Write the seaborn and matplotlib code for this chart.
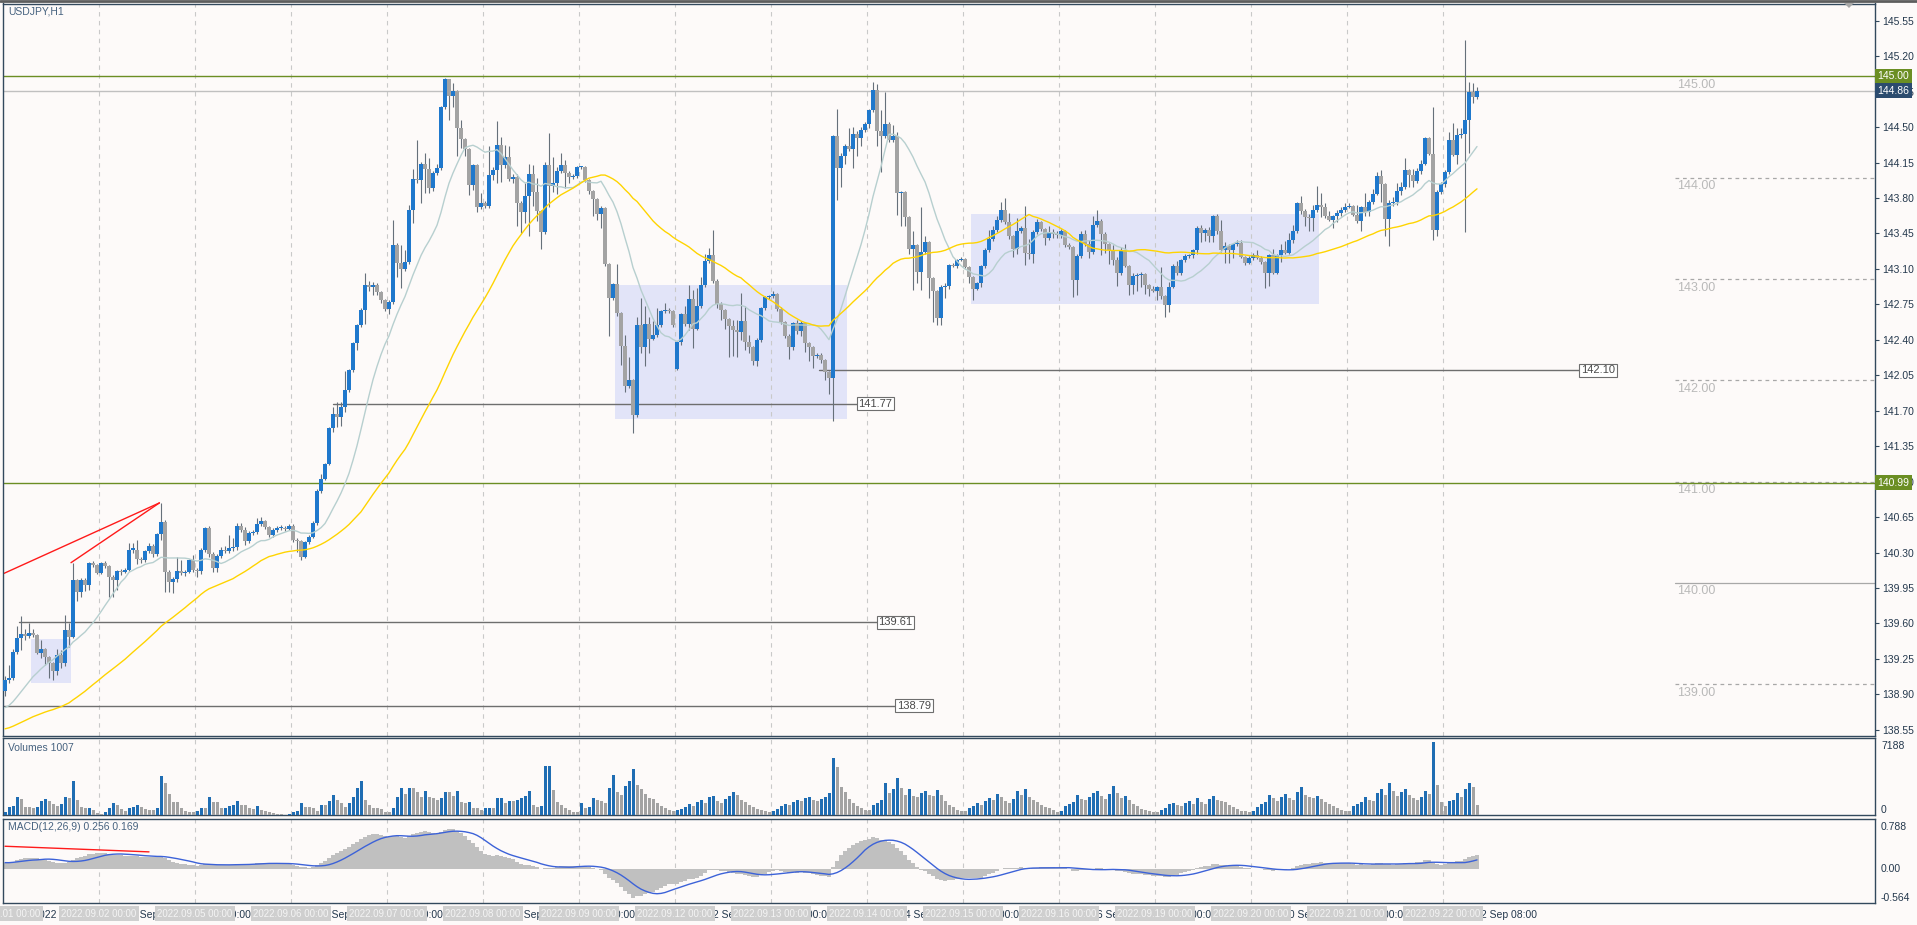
import numpy as np
import pandas as pd
import matplotlib
matplotlib.use("Agg")
import matplotlib.pyplot as plt
from matplotlib.lines import Line2D
from matplotlib.patches import Rectangle, Polygon
import seaborn as sns

# ==================== data ====================
symbol = "USDJPY,H1"
trading_days = [1, 2, 5, 6, 7, 8, 9, 12, 13, 14, 15, 16, 19, 20, 21, 22]
first_open = 138.93
gap_opens = {168: 142.11}          # Monday open gap

closes = [
    # 1 Sep
    139.04, 139.06, 139.32, 139.46, 139.50, 139.48, 139.51, 139.49, 139.31, 139.35, 139.27, 139.21,
    139.13, 139.29, 139.21, 139.54, 139.47, 140.03, 139.91, 140.03, 139.98, 140.20, 140.18, 140.10,
    # 2 Sep
    140.20, 140.17, 140.06, 140.03, 140.12, 140.11, 140.13, 140.33, 140.33, 140.24, 140.23, 140.32,
    140.36, 140.29, 140.48, 140.60, 140.11, 140.01, 140.04, 140.12, 140.10, 140.11, 140.23, 140.13,
    # 5 Sep
    140.12, 140.33, 140.54, 140.29, 140.15, 140.27, 140.33, 140.32, 140.34, 140.35, 140.56, 140.52,
    140.41, 140.49, 140.50, 140.58, 140.61, 140.55, 140.47, 140.52, 140.54, 140.54, 140.53, 140.56,
    # 6 Sep
    140.42, 140.41, 140.26, 140.40, 140.45, 140.59, 140.91, 141.03, 141.17, 141.53, 141.67, 141.64,
    141.74, 141.90, 142.10, 142.37, 142.55, 142.69, 142.94, 142.92, 142.94, 142.87, 142.79, 142.70,
    # 7 Sep
    142.77, 143.34, 143.16, 143.10, 143.17, 143.68, 143.99, 143.98, 144.14, 144.09, 143.90, 144.05,
    144.10, 144.70, 144.97, 144.81, 144.86, 144.49, 144.38, 144.28, 143.93, 144.13, 143.71, 143.75,
    # 8 Sep
    143.72, 144.03, 144.08, 144.32, 144.13, 144.20, 143.99, 144.01, 143.75, 143.66, 143.82, 144.04,
    143.86, 143.67, 143.46, 144.13, 143.92, 143.95, 144.07, 144.13, 144.05, 144.01, 144.02, 144.11,
    # 9 Sep
    144.11, 143.98, 143.87, 143.79, 143.64, 143.70, 143.15, 142.81, 142.95, 142.66, 142.34, 141.94,
    142.00, 141.66, 142.55, 142.33, 142.56, 142.41, 142.45, 142.55, 142.68, 142.69, 142.68, 142.55,
    # 12 Sep
    142.38, 142.65, 142.56, 142.80, 142.51, 142.73, 142.94, 143.18, 143.24, 142.98, 142.75, 142.69,
    142.61, 142.54, 142.50, 142.48, 142.59, 142.38, 142.33, 142.19, 142.40, 142.71, 142.82, 142.83,
    # 13 Sep
    142.85, 142.70, 142.58, 142.44, 142.33, 142.57, 142.49, 142.57, 142.37, 142.33, 142.24, 142.25,
    142.20, 142.08, 142.02, 144.41, 144.10, 144.21, 144.31, 144.28, 144.43, 144.39, 144.47, 144.53,
    # 14 Sep
    144.67, 144.87, 144.46, 144.41, 144.53, 144.37, 144.41, 143.85, 143.86, 143.61, 143.30, 143.34,
    143.07, 143.27, 143.37, 143.01, 142.88, 142.62, 142.92, 142.93, 143.14, 143.13, 143.19, 143.20,
    # 15 Sep
    143.12, 143.02, 142.90, 142.96, 143.13, 143.29, 143.40, 143.48, 143.58, 143.68, 143.56, 143.42,
    143.30, 143.47, 143.50, 143.26, 143.25, 143.46, 143.56, 143.49, 143.41, 143.46, 143.44, 143.43,
    # 16 Sep
    143.47, 143.34, 143.32, 142.99, 143.23, 143.44, 143.35, 143.27, 143.53, 143.57, 143.44, 143.35,
    143.29, 143.19, 143.06, 143.29, 143.13, 142.94, 143.03, 143.04, 143.05, 142.94, 142.90, 142.88,
    # 19 Sep
    142.92, 142.83, 142.74, 142.92, 143.13, 143.06, 143.19, 143.23, 143.24, 143.29, 143.50, 143.45,
    143.48, 143.42, 143.62, 143.47, 143.29, 143.33, 143.29, 143.35, 143.36, 143.22, 143.16, 143.21,
    # 20 Sep
    143.24, 143.21, 143.17, 143.06, 143.24, 143.06, 143.24, 143.29, 143.26, 143.39, 143.47, 143.75,
    143.67, 143.61, 143.60, 143.68, 143.73, 143.71, 143.62, 143.58, 143.62, 143.65, 143.68, 143.71,
    # 21 Sep
    143.72, 143.63, 143.57, 143.71, 143.66, 143.76, 143.84, 144.02, 143.94, 143.59, 143.75, 143.76,
    143.87, 143.91, 144.08, 144.03, 143.97, 144.07, 144.14, 144.39, 144.23, 143.48, 143.86, 143.94,
    # 22 Sep
    144.06, 144.37, 144.22, 144.42, 144.43, 144.57, 144.85, 144.80, 144.86,
]

highs = [
    139.08, 139.19, 139.35, 139.57, 139.67, 139.55, 139.60, 139.55, 139.50, 139.44, 139.36, 139.28,
    139.22, 139.35, 139.34, 139.68, 139.60, 140.20, 140.04, 140.05, 140.05, 140.21, 140.22, 140.19,
    140.21, 140.22, 140.18, 140.08, 140.13, 140.14, 140.15, 140.39, 140.39, 140.42, 140.26, 140.33,
    140.39, 140.38, 140.49, 140.79, 140.62, 140.13, 140.06, 140.26, 140.23, 140.13, 140.24, 140.28,
    140.15, 140.34, 140.55, 140.56, 140.31, 140.29, 140.35, 140.36, 140.47, 140.44, 140.59, 140.59,
    140.55, 140.51, 140.52, 140.64, 140.65, 140.62, 140.56, 140.54, 140.56, 140.57, 140.56, 140.58,
    140.58, 140.44, 140.42, 140.41, 140.47, 140.61, 140.93, 141.08, 141.18, 141.54, 141.74, 141.79,
    141.79, 142.09, 142.11, 142.38, 142.56, 142.71, 143.06, 142.98, 142.97, 142.96, 142.88, 142.80,
    142.79, 143.58, 143.36, 143.34, 143.29, 143.73, 144.09, 144.37, 144.16, 144.24, 144.19, 144.07,
    144.14, 144.71, 144.98, 144.97, 144.94, 144.87, 144.57, 144.39, 144.29, 144.14, 144.14, 143.85,
    143.77, 144.31, 144.11, 144.56, 144.40, 144.32, 144.31, 144.04, 144.04, 143.77, 143.95, 144.14,
    144.13, 144.00, 143.68, 144.16, 144.44, 144.20, 144.11, 144.24, 144.18, 144.07, 144.04, 144.12,
    144.12, 144.12, 143.99, 143.88, 143.80, 143.72, 143.71, 143.16, 142.96, 143.15, 142.67, 142.45,
    142.23, 142.01, 142.63, 142.81, 142.73, 142.63, 142.59, 142.71, 142.69, 142.76, 142.71, 142.69,
    142.39, 142.66, 142.73, 142.94, 142.89, 142.91, 143.02, 143.25, 143.31, 143.48, 143.00, 142.77,
    142.70, 142.62, 142.60, 142.60, 142.86, 142.73, 142.45, 142.34, 142.42, 142.72, 142.83, 142.84,
    142.88, 142.86, 142.72, 142.59, 142.46, 142.58, 142.60, 142.59, 142.58, 142.38, 142.34, 142.27,
    142.27, 142.21, 142.09, 144.42, 144.68, 144.24, 144.33, 144.49, 144.50, 144.46, 144.50, 144.55,
    144.68, 144.95, 144.93, 144.67, 144.85, 144.55, 144.52, 144.45, 143.87, 143.87, 143.62, 143.47,
    143.35, 143.71, 143.42, 143.38, 143.02, 142.89, 142.94, 142.96, 143.15, 143.16, 143.20, 143.22,
    143.21, 143.13, 143.03, 142.97, 143.14, 143.31, 143.48, 143.52, 143.62, 143.76, 143.80, 143.65,
    143.43, 143.60, 143.52, 143.72, 143.40, 143.48, 143.59, 143.57, 143.50, 143.52, 143.49, 143.47,
    143.49, 143.48, 143.36, 143.33, 143.25, 143.47, 143.48, 143.39, 143.62, 143.68, 143.59, 143.46,
    143.36, 143.34, 143.22, 143.32, 143.35, 143.14, 143.06, 143.06, 143.07, 143.06, 142.95, 142.93,
    142.93, 143.12, 142.84, 142.97, 143.15, 143.18, 143.20, 143.25, 143.25, 143.30, 143.52, 143.53,
    143.50, 143.51, 143.63, 143.64, 143.58, 143.37, 143.35, 143.36, 143.39, 143.39, 143.23, 143.23,
    143.26, 143.29, 143.23, 143.18, 143.25, 143.30, 143.25, 143.35, 143.38, 143.45, 143.53, 143.76,
    143.82, 143.69, 143.64, 143.73, 143.92, 143.85, 143.75, 143.67, 143.63, 143.68, 143.71, 143.75,
    143.75, 143.73, 143.73, 143.72, 143.85, 143.78, 143.89, 144.06, 144.08, 143.95, 143.78, 143.81,
    143.95, 143.96, 144.19, 144.09, 144.09, 144.10, 144.18, 144.40, 144.40, 144.70, 143.88, 143.96,
    144.08, 144.45, 144.54, 144.49, 144.49, 145.36, 144.95, 144.94, 144.90,
]

lows = [
    138.88, 139.01, 139.04, 139.30, 139.34, 139.44, 139.46, 139.47, 139.30, 139.26, 139.19, 139.06,
    139.04, 139.09, 139.16, 139.18, 139.37, 139.46, 139.82, 139.86, 139.92, 139.93, 140.16, 140.09,
    140.09, 140.15, 139.86, 139.86, 139.93, 140.08, 140.10, 140.12, 140.30, 140.19, 140.20, 140.21,
    140.30, 140.26, 140.27, 140.42, 139.91, 139.91, 139.90, 140.01, 140.08, 140.07, 140.10, 140.11,
    140.06, 140.09, 140.31, 140.26, 140.11, 140.11, 140.25, 140.30, 140.30, 140.32, 140.33, 140.50,
    140.37, 140.39, 140.47, 140.48, 140.56, 140.53, 140.45, 140.45, 140.50, 140.52, 140.51, 140.52,
    140.40, 140.31, 140.23, 140.25, 140.38, 140.44, 140.57, 140.89, 141.02, 141.16, 141.49, 141.54,
    141.55, 141.69, 141.88, 142.08, 142.30, 142.53, 142.56, 142.88, 142.84, 142.84, 142.76, 142.68,
    142.65, 142.75, 143.02, 142.91, 143.08, 143.15, 143.55, 143.95, 143.75, 143.85, 143.85, 143.87,
    144.03, 144.08, 144.68, 144.57, 144.70, 144.21, 144.29, 144.21, 143.83, 143.88, 143.66, 143.69,
    143.70, 143.70, 143.98, 143.95, 143.96, 144.10, 143.97, 143.95, 143.52, 143.45, 143.55, 143.42,
    143.72, 143.57, 143.30, 143.44, 143.71, 143.86, 143.84, 144.05, 143.90, 143.95, 143.99, 144.00,
    144.09, 143.96, 143.84, 143.62, 143.58, 143.50, 143.13, 142.44, 142.79, 142.64, 142.15, 141.88,
    141.92, 141.48, 141.64, 142.27, 142.14, 142.27, 142.40, 142.43, 142.53, 142.66, 142.66, 142.53,
    142.10, 142.35, 142.54, 142.50, 142.32, 142.50, 142.71, 142.92, 143.16, 142.96, 142.71, 142.60,
    142.51, 142.23, 142.24, 142.23, 142.40, 142.30, 142.27, 142.15, 142.14, 142.38, 142.69, 142.80,
    142.81, 142.68, 142.56, 142.42, 142.21, 142.30, 142.46, 142.44, 142.28, 142.19, 142.12, 142.22,
    142.17, 142.00, 141.87, 141.60, 143.78, 143.91, 144.14, 144.26, 144.10, 144.21, 144.31, 144.45,
    144.49, 144.65, 144.31, 144.06, 144.39, 144.35, 144.35, 143.63, 143.52, 143.52, 143.25, 142.89,
    142.96, 142.89, 143.25, 142.81, 142.58, 142.55, 142.55, 142.81, 142.90, 143.12, 143.11, 143.18,
    143.11, 142.96, 142.79, 142.89, 142.92, 143.11, 143.27, 143.38, 143.46, 143.56, 143.54, 143.40,
    143.22, 143.25, 143.45, 143.14, 143.20, 143.16, 143.44, 143.47, 143.34, 143.39, 143.41, 143.41,
    143.41, 143.32, 143.30, 142.82, 142.84, 143.21, 143.33, 143.21, 143.25, 143.51, 143.24, 143.26,
    143.15, 143.14, 142.93, 143.04, 143.12, 142.84, 142.85, 142.88, 142.92, 142.85, 142.83, 142.87,
    142.79, 142.80, 142.63, 142.67, 142.91, 143.04, 143.04, 143.17, 143.21, 143.21, 143.25, 143.37,
    143.38, 143.37, 143.37, 143.44, 143.27, 143.16, 143.16, 143.21, 143.33, 143.21, 143.14, 143.15,
    143.19, 143.20, 143.15, 142.91, 142.93, 143.05, 143.05, 143.17, 143.25, 143.25, 143.36, 143.45,
    143.64, 143.52, 143.47, 143.47, 143.66, 143.61, 143.60, 143.57, 143.50, 143.56, 143.62, 143.66,
    143.70, 143.62, 143.55, 143.47, 143.62, 143.62, 143.74, 143.83, 143.76, 143.42, 143.33, 143.72,
    143.73, 143.83, 143.89, 143.91, 143.91, 143.95, 144.04, 144.13, 144.22, 143.39, 143.42, 143.84,
    143.91, 144.04, 144.21, 144.14, 144.39, 143.46, 144.24, 144.74, 144.78,
]

volumes = [
    330, 825, 924, 1815, 1584, 825, 825, 726, 825, 1386, 1584, 1386, 1056, 924, 1056, 1815, 1716, 3366,
    1485, 825, 660, 726, 495, 165, 99, 264, 660, 1155, 990, 594, 396, 660, 825, 990, 825, 594, 495, 495,
    726, 3861, 3135, 2046, 1254, 1254, 726, 396, 330, 264, 396, 726, 660, 1749, 1254, 1254, 660, 726,
    924, 990, 1386, 990, 990, 726, 594, 924, 495, 396, 264, 165, 99, 99, 33, 99, 264, 396, 1155, 825,
    825, 660, 396, 990, 990, 1386, 1980, 1485, 1155, 825, 1155, 1815, 2706, 3300, 1485, 990, 660, 660,
    594, 330, 264, 726, 1815, 2706, 2046, 2706, 2706, 2310, 1815, 2376, 1815, 1650, 1485, 1650, 2244,
    2244, 1914, 2376, 1320, 1155, 1320, 726, 726, 495, 660, 726, 726, 1650, 1716, 1155, 1386, 1386,
    1485, 1650, 1914, 2376, 990, 825, 924, 4785, 4851, 2475, 1320, 990, 726, 495, 330, 264, 1155, 726,
    825, 1716, 1485,
    # 9 Sep (05:00 on)
    1400, 1200, 2700, 3900, 2300, 2000, 2900, 3300, 4500, 3000, 2600, 2100, 1700, 1600, 1200, 900, 700,
    500, 400,
    # 12 Sep
    500, 600, 800, 1100, 900, 1300, 1500, 1200, 1800, 1900, 1400, 1200, 1600, 1900, 2300, 2000, 1500,
    1300, 1000, 800, 600, 500, 400, 300,
    # 13 Sep
    400, 600, 900, 1100, 1000, 1300, 1500, 1400, 1700, 1800, 1500, 1400, 1600, 1800, 2200, 5600, 4700,
    2800, 2300, 1600, 1200, 900, 700, 500,
    # 14 Sep
    500, 1000, 1200, 1500, 3200, 2200, 2600, 3600, 2700, 2000, 2600, 1900, 1800, 2200, 2400, 2000, 1900,
    2500, 2000, 1400, 1000, 800, 500, 400,
    # 15 Sep
    400, 700, 900, 1200, 1000, 1400, 1700, 1500, 2100, 1800, 1400, 1200, 1600, 2400, 2000, 2600, 1800,
    1500, 1300, 1000, 800, 700, 500, 300,
    # 16 Sep
    400, 900, 1100, 1300, 2000, 1600, 1500, 1800, 2200, 2400, 1900, 1600, 2100, 2900, 2200, 1700, 1900,
    1500, 1100, 900, 600, 500, 400, 300,
    # 19 Sep
    300, 500, 700, 1100, 1200, 1000, 900, 1200, 1400, 1100, 1700, 1300, 1100, 1600, 1900, 1500, 1400,
    1300, 1000, 800, 600, 400, 400, 300,
    # 20 Sep
    400, 800, 1100, 1300, 2000, 1700, 1400, 1800, 2100, 1700, 1500, 2300, 2800, 2000, 1800, 1700, 1900,
    1600, 1300, 1100, 900, 700, 500, 400,
    # 21 Sep
    400, 900, 1100, 1300, 1800, 1500, 1400, 2200, 2600, 2000, 3200, 2400, 1900, 2300, 2600, 2000, 1700,
    1500, 1800, 2400, 2100, 7188, 3000, 1300,
    # 22 Sep
    900, 1400, 1500, 2200, 1800, 2600, 3200, 2800, 1007,
]

# levels, boxes and drawn objects (prices and bar numbers)
green_levels = [145.00, 140.99]
bid_price = 144.86
round_levels = [145.00, 144.00, 143.00, 142.00, 141.00, 140.00, 139.00]
# (start bar, end bar, price, label)
price_lines = [(82, 213.3, 141.77, "141.77"), (203.6, 394, 142.10, "142.10"),
               (3.5, 218.3, 139.61, "139.61"), (-0.5, 223, 138.79, "138.79")]
# (left bar, right bar, low, high)
zones = [(6.5, 16.4, 139.015, 139.45), (152.5, 210.4, 141.62, 142.94), (241.5, 328.5, 142.75, 143.64)]
trend_lines = [((-0.5, 140.09), (38.6, 140.79)), ((16.5, 140.20), (38.6, 140.79))]
macd_trend = ((0, 0.41), (36, 0.31))
ma_fast_len, ma_slow_len = 15, 50
ma_fast_start, ma_slow_start = 138.75, 138.55     # level of the averages at the left edge
ema12_start, ema26_start = 138.95, 138.83

# ==================== derived series ====================
n = len(closes)
closes = np.array(closes)
highs = np.array(highs)
lows = np.array(lows)
opens = np.concatenate([[first_open], closes[:-1]])
for k, v in gap_opens.items():
    opens[k] = v
x = np.arange(n)

ma_fast = pd.Series([ma_fast_start] * (ma_fast_len - 1) + list(closes)).rolling(ma_fast_len).mean().iloc[ma_fast_len - 1:].values
ma_slow = pd.Series([ma_slow_start] * (ma_slow_len - 1) + list(closes)).rolling(ma_slow_len).mean().iloc[ma_slow_len - 1:].values
ema12 = pd.Series([ema12_start] + list(closes)).ewm(span=12, adjust=False).mean().iloc[1:].values
ema26 = pd.Series([ema26_start] + list(closes)).ewm(span=26, adjust=False).mean().iloc[1:].values
macd = ema12 - ema26
signal = pd.Series(macd).rolling(9, min_periods=1).mean().values

# ==================== style ====================
sns.set_theme(style="white")
plt.rcParams['font.family'] = ['Liberation Sans', 'DejaVu Sans']

BG = '#fdfaf9'
FRAME = '#33495d'
BLUE = '#1f78cc'
VBLUE = '#1f6db3'
GRAY = '#a3a3a3'
WICK = '#66707a'
TXT = '#24384d'
GREEN = '#6b8e23'
FS = 7.5

W, H = 1917, 925
def box(x0, y0, x1, y1):
    return [x0 / W, 1 - y1 / H, (x1 - x0) / W, (y1 - y0) / H]

fig = plt.figure(figsize=(W / 100, H / 100), dpi=100, facecolor=BG)
ax = fig.add_axes(box(3, 3.5, 1875, 736))
ax_v = fig.add_axes(box(3, 738, 1875, 815))
ax_m = fig.add_axes(box(3, 819, 1875, 903))

for a in (ax, ax_v, ax_m):
    a.set_facecolor(BG)
    a.set_xlim(-0.5, 467.5)
    for s in a.spines.values():
        s.set_color(FRAME)
        s.set_linewidth(1.0)
    a.set_xticks([])
    for k in range(1, len(trading_days)):
        a.axvline(24 * k - 0.5, color='#c9c9c9', lw=0.8, ls=(0, (4, 4)), zorder=0.6)

# ---------------- main price panel ----------------
ax.set_ylim(138.489, 145.72)
for x0, x1, lo, hi in zones:
    ax.add_patch(Rectangle((x0, lo), x1 - x0, hi - lo, facecolor='#e2e4f8', edgecolor='none', zorder=0.5))

for lvl in green_levels:
    ax.axhline(lvl, color=GREEN, lw=1.0, zorder=1.5)
ax.axhline(bid_price, color='#c0c0c0', lw=1.0, zorder=1.4)

for x0, x1, p, lab in price_lines:
    ax.plot([x0, x1], [p, p], color='#6e6e6e', lw=1.0, zorder=1.6)
    ax.text(x1, p, lab, ha='left', va='center', fontsize=FS + 0.5, color='#4a4a4a', zorder=6,
            bbox=dict(boxstyle='square,pad=0.15', fc='white', ec='#6e6e6e', lw=0.8))

for (xa, ya), (xb, yb) in trend_lines:
    ax.plot([xa, xb], [ya, yb], color='#ff1a1a', lw=1.0, zorder=2)

for lvl in round_levels:
    if lvl not in green_levels:
        ls = '-' if lvl == 140.00 else (0, (3, 3))
        ax.plot([417.5, 467.5], [lvl, lvl], color='#a8a8a8', lw=0.9, ls=ls, zorder=1)
    ax.text(418, lvl - 0.025, f"{lvl:.2f}", ha='left', va='top', fontsize=FS + 1.5, color='#b9b9b9', zorder=2)

# candles
up = closes >= opens
body_lo = np.minimum(opens, closes)
body_h = np.maximum(np.abs(closes - opens), 0.01)
ax.vlines(x, lows, highs, color=WICK, lw=0.8, zorder=3)
ax.bar(x, body_h, bottom=body_lo, width=0.78, color=np.where(up, BLUE, GRAY), linewidth=0, zorder=3.5)

sns.lineplot(x=x, y=ma_fast, ax=ax, color='#b7cfcf', lw=1.0, zorder=4)
sns.lineplot(x=x, y=ma_slow, ax=ax, color='#ffd400', lw=1.0, zorder=4)

yt = np.round(np.arange(138.55, 145.56, 0.35), 2)
ax.yaxis.tick_right()
ax.set_yticks(yt)
ax.set_yticklabels([f"{v:.2f}" for v in yt])
ax.tick_params(axis='y', direction='out', length=3, width=0.8, pad=2, labelsize=FS,
               colors=FRAME, labelcolor=TXT)
ax.set_ylabel('')
ax.set_xlabel('')

def tag(price, text, fc):
    ax.text(1.0012, price, text, transform=ax.get_yaxis_transform(), ha='left', va='center',
            fontsize=FS, color='white', zorder=10, clip_on=False,
            bbox=dict(boxstyle='square,pad=0.25', fc=fc, ec='none'))
tag(145.00, "145.00", GREEN)
tag(bid_price, "144.86", '#2b4b6e')
tag(140.99, "140.99", GREEN)

fig.text(8 / W, 1 - 12 / H, symbol, fontsize=FS, color='#46627f', va='center')

# ---------------- volumes ----------------
vol = np.array(volumes, dtype=float)
vol_up = np.concatenate([[True], vol[1:] > vol[:-1]])
ax_v.bar(x, vol, width=0.75, color=np.where(vol_up, VBLUE, GRAY), linewidth=0, zorder=3)
ax_v.set_ylim(0, 7582)
ax_v.set_yticks([])
fig.text(8 / W, 1 - 748 / H, "Volumes 1007", fontsize=FS, color='#46627f', va='center')
fig.text(1881 / W, 1 - 746 / H, "7188", fontsize=FS, color=TXT, va='center')
fig.text(1881 / W, 1 - 810 / H, "0", fontsize=FS, color=TXT, va='center')

# ---------------- MACD ----------------
ax_m.bar(x, macd, width=1.0, color='#c0c0c0', linewidth=0, zorder=2)
sns.lineplot(x=x, y=signal, ax=ax_m, color='#3c62d8', lw=1.0, zorder=3)
ax_m.plot([macd_trend[0][0], macd_trend[1][0]], [macd_trend[0][1], macd_trend[1][1]],
          color='#ff1a1a', lw=1.0, zorder=4)
ax_m.set_ylim(-0.60, 0.895)
ax_m.set_yticks([])
ax_m.set_ylabel('')
fig.text(8 / W, 1 - 827 / H, "MACD(12,26,9) 0.256 0.169", fontsize=FS, color='#46627f', va='center')
fig.text(1881 / W, 1 - 826.7 / H, "0.788", fontsize=FS, color=TXT, va='center')
fig.text(1881 / W, 1 - 869.3 / H, "0.00", fontsize=FS, color=TXT, va='center')
fig.text(1881 / W, 1 - 898 / H, "-0.564", fontsize=FS, color=TXT, va='center')

# time axis: MT4 ticks sit on the left edge of the bar
ticks = list(range(0, n, 16))
labels = []
for t in ticks:
    d, h = trading_days[t // 24], t % 24
    labels.append("1 Sep 2022" if t == 0 else f"{d} Sep {h:02d}:00")
ax_m.set_xticks([t - 0.5 for t in ticks])
ax_m.set_xticklabels(labels)
ax_m.tick_params(axis='x', direction='out', length=3, width=0.8, pad=2, labelsize=FS,
                 colors=FRAME, labelcolor=TXT)
plt.setp(ax_m.get_xticklabels(), ha='left')
for k, d in enumerate(trading_days):
    ax_m.text(24 * k - 0.5, -0.13, f"2022.09.{d:02d} 00:00", transform=ax_m.get_xaxis_transform(),
              ha='center', va='center', fontsize=7, color='#f4f4f4', zorder=10, clip_on=False,
              bbox=dict(boxstyle='square,pad=0.25', fc='#cfcfcf', ec='none'))

# window decorations
fig.add_artist(Line2D([0, 1], [1 - 0.8 / H, 1 - 0.8 / H], transform=fig.transFigure, color='#5d5d5d', lw=2))
fig.add_artist(Polygon([[1844 / W, 1 - 3 / H], [1854 / W, 1 - 3 / H], [1849 / W, 1 - 8 / H]],
                       closed=True, transform=fig.transFigure, fc='#a8a8a8', ec='none'))

fig.savefig("out.png", dpi=100, facecolor=BG)
